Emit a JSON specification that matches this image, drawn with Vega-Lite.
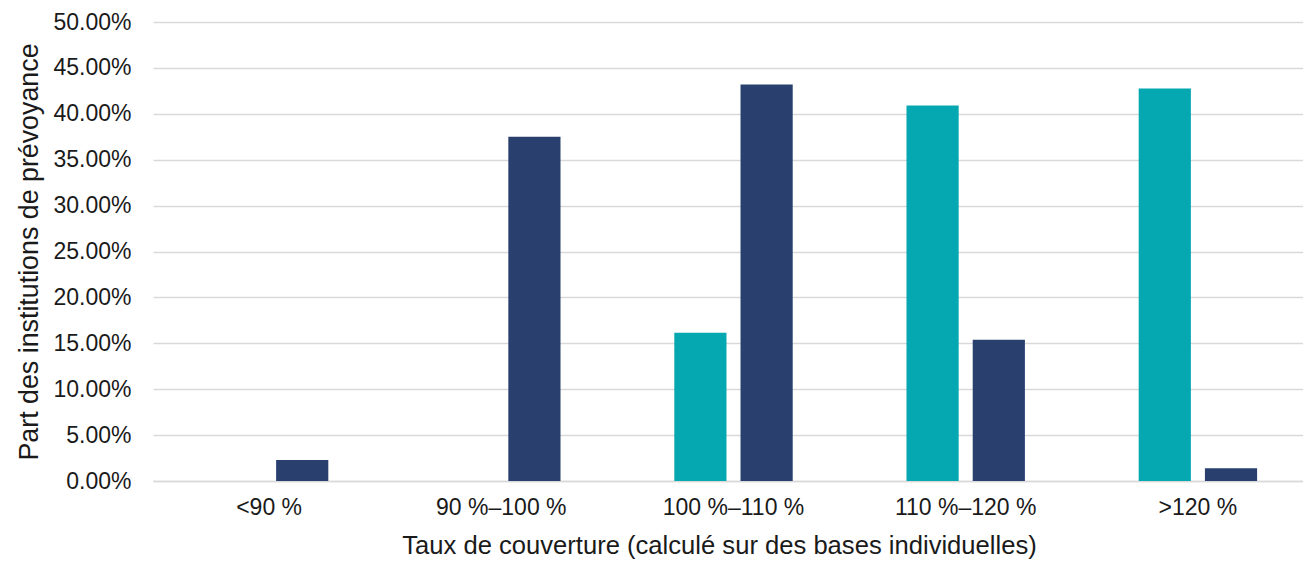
{
  "$schema": "https://vega.github.io/schema/vega-lite/v6.json",
  "width": 1148,
  "height": 459,
  "autosize": "none",
  "padding": {"left": 153, "top": 22, "right": 2, "bottom": 80},
  "background": "white",
  "config": {
    "view": {"stroke": null},
    "font": "Liberation Sans",
    "axis": {"labelFont": "Liberation Sans", "titleFont": "Liberation Sans", "labelColor": "#1a1a1a", "titleColor": "#1a1a1a", "titleFontWeight": "normal"}
  },
  "data": {
    "values": [
      {"taux": "<90 %", "serie": "A", "part": 0},
      {"taux": "<90 %", "serie": "B", "part": 0.0229},
      {"taux": "90 %–100 %", "serie": "A", "part": 0},
      {"taux": "90 %–100 %", "serie": "B", "part": 0.375},
      {"taux": "100 %–110 %", "serie": "A", "part": 0.1615},
      {"taux": "100 %–110 %", "serie": "B", "part": 0.4318},
      {"taux": "110 %–120 %", "serie": "A", "part": 0.409},
      {"taux": "110 %–120 %", "serie": "B", "part": 0.1538},
      {"taux": ">120 %", "serie": "A", "part": 0.4275},
      {"taux": ">120 %", "serie": "B", "part": 0.0138}
    ]
  },
  "mark": {"type": "bar"},
  "encoding": {
    "x": {
      "field": "taux", "type": "nominal", "sort": null,
      "scale": {"range": [0, 1161], "paddingInner": 0.49, "paddingOuter": 0.245},
      "axis": {"title": "Taux de couverture (calculé sur des bases individuelles)", "labelAngle": 0, "labelFontSize": 23, "titleFontSize": 25.6, "ticks": false, "domainColor": "#d9d9d9", "domainWidth": 1.5, "labelPadding": 15, "titlePadding": 14, "titleX": 566}
    },
    "xOffset": {"field": "serie", "type": "nominal", "scale": {"paddingInner": 0.212, "paddingOuter": 0}},
    "y": {
      "field": "part", "type": "quantitative",
      "scale": {"domain": [0, 0.5], "nice": false},
      "axis": {"title": "Part des institutions de prévoyance", "format": ".2%", "values": [0, 0.05, 0.1, 0.15, 0.2, 0.25, 0.3, 0.35, 0.4, 0.45, 0.5], "labelFontSize": 23, "titleFontSize": 26.8, "ticks": false, "domain": false, "gridColor": "#d9d9d9", "gridWidth": 1.5, "labelPadding": 22, "titlePadding": 9}
    },
    "color": {"field": "serie", "type": "nominal", "scale": {"domain": ["A", "B"], "range": ["#05A8B0", "#29406E"]}, "legend": null}
  }
}
